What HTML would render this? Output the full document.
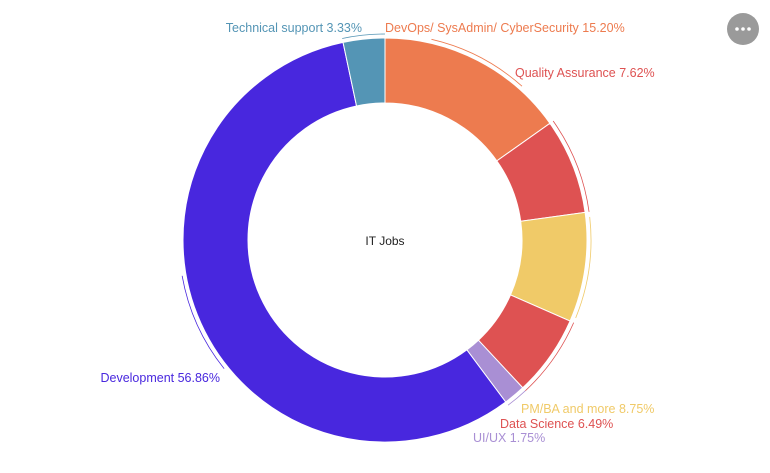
<!DOCTYPE html>
<html><head><meta charset="utf-8"><style>
html,body{margin:0;padding:0;background:#fff;width:770px;height:473px;overflow:hidden}
svg text{font-family:"Liberation Sans",sans-serif;font-size:12.5px}
</style></head><body>
<svg id="s" width="770" height="473" xmlns="http://www.w3.org/2000/svg">
<g id="g"></g>
<text x="385" y="245" text-anchor="middle" fill="#222" style="font-size:12px">IT Jobs</text>
<text x="362" y="32" text-anchor="end" fill="#5495B5">Technical support 3.33%</text>
<text x="385" y="32" fill="#ED7B4F">DevOps/ SysAdmin/ CyberSecurity 15.20%</text>
<text x="515" y="77" fill="#DE5252">Quality Assurance 7.62%</text>
<text x="521" y="413" fill="#F0CA68">PM/BA and more 8.75%</text>
<text x="500" y="428" fill="#DE5252">Data Science 6.49%</text>
<text x="473" y="442" fill="#A98FD4">UI/UX 1.75%</text>
<text x="220" y="382" text-anchor="end" fill="#4827DE">Development 56.86%</text>
<circle cx="743" cy="29" r="16" fill="#9a9a9a"/>
<circle cx="737" cy="29" r="1.8" fill="#fff"/><circle cx="743" cy="29" r="1.8" fill="#fff"/><circle cx="749" cy="29" r="1.8" fill="#fff"/>
</svg>
<script>
var d=[[15.20,"#ED7B4F"],[7.62,"#DE5252"],[8.75,"#F0CA68"],[6.49,"#DE5252"],[1.75,"#A98FD4"],[56.86,"#4827DE"],[3.33,"#5495B5"]];
var cx=385,cy=240,R=202,r=137,a=0,h="";
function p(rad,ang){return [cx+rad*Math.sin(ang),cy-rad*Math.cos(ang)];}
var tot=0;d.forEach(function(x){tot+=x[0]});
d.forEach(function(x){
 var a0=a,a1=a+x[0]/tot*2*Math.PI;a=a1;var l=(a1-a0)>Math.PI?1:0;
 var A=p(R,a0),B=p(R,a1),C=p(r,a1),D=p(r,a0);
 h+='<path d="M'+A+' A'+R+' '+R+' 0 '+l+' 1 '+B+' L'+C+' A'+r+' '+r+' 0 '+l+' 0 '+D+'Z" fill="'+x[1]+'" stroke="#fff" stroke-width="1"/>';
 var m=(a0+a1)/2,s=Math.min((a1-a0)/2,0.25),E=p(R+4,m-s),F=p(R+4,m+s);
 h+='<path d="M'+E+' A'+(R+4)+' '+(R+4)+' 0 0 1 '+F+'" fill="none" stroke="'+x[1]+'" stroke-width="0.8"/>';
});
document.getElementById("g").innerHTML=h;
</script>
</body></html>
